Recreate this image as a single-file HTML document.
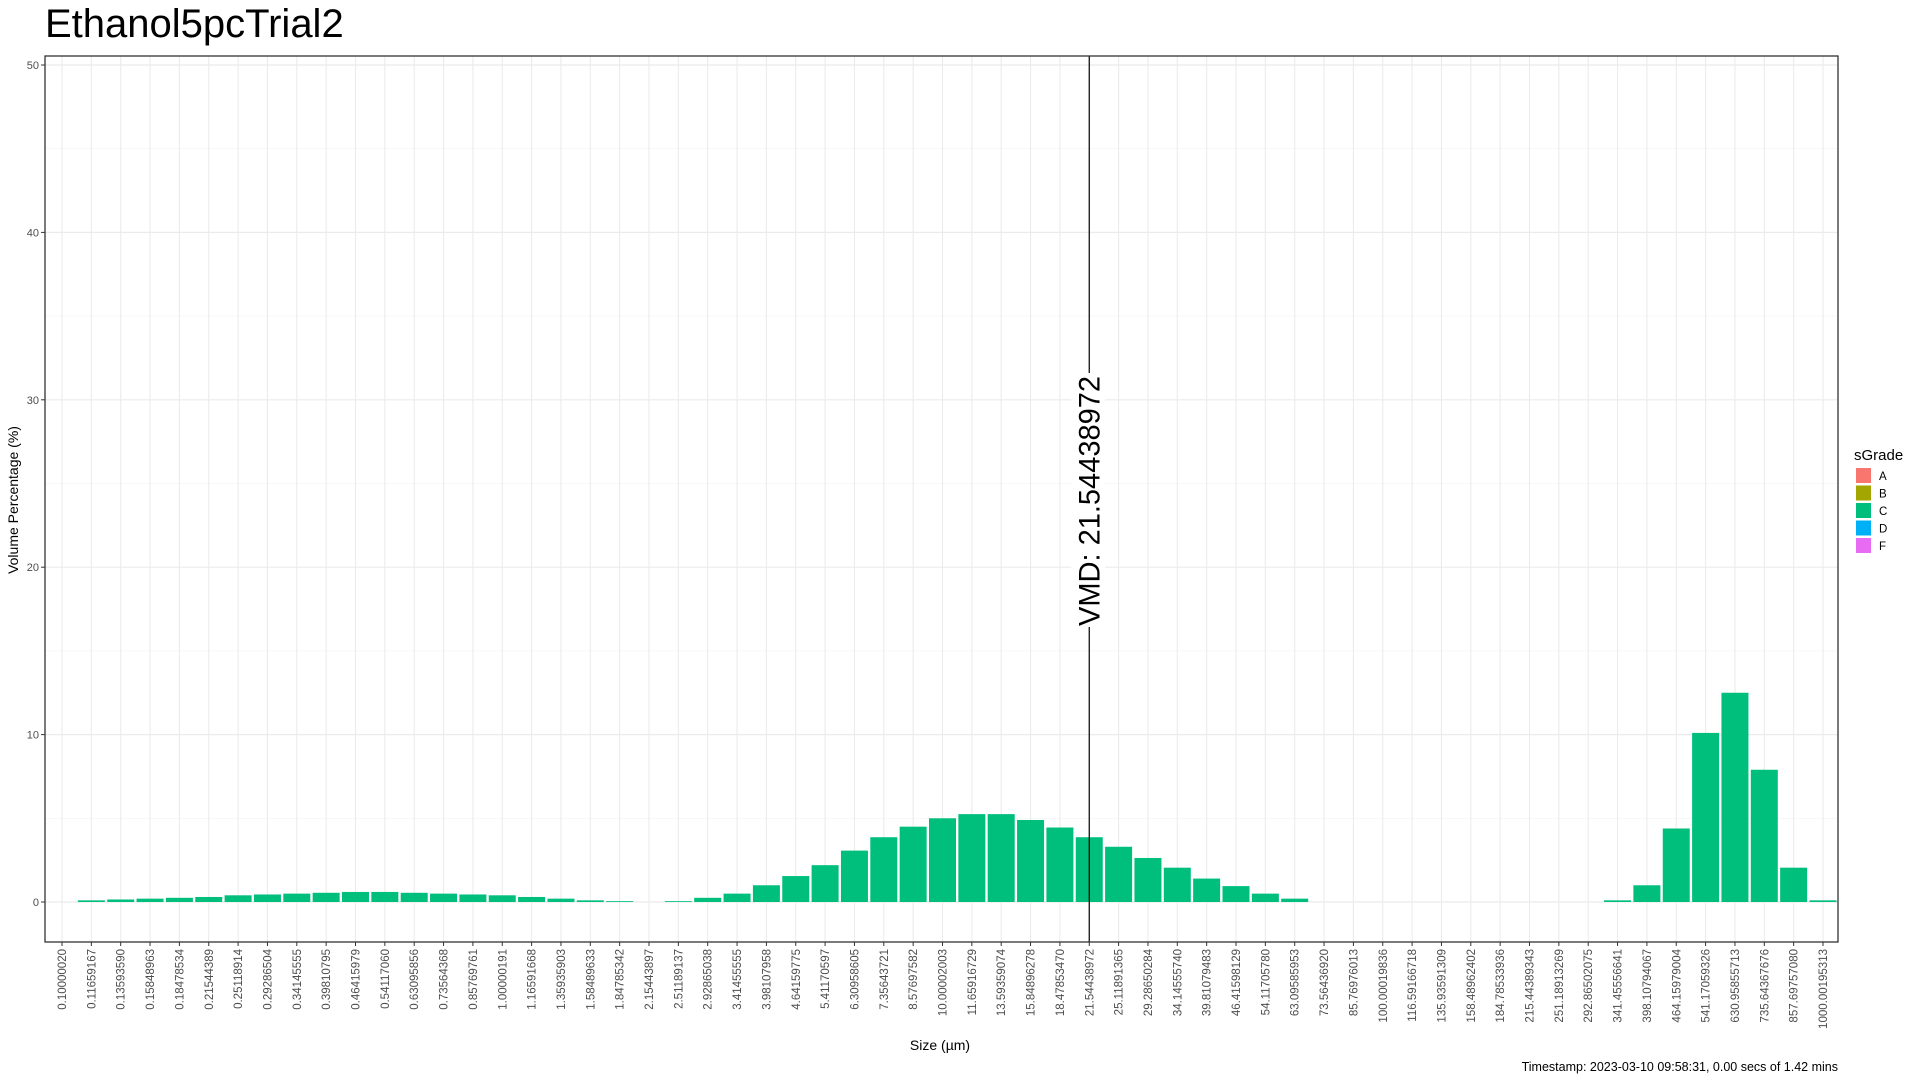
<!DOCTYPE html>
<html><head><meta charset="utf-8"><style>
html,body{margin:0;padding:0;background:#fff;}
svg{display:block;font-family:"Liberation Sans",sans-serif;}
</style></head><body>
<svg id="chart" width="1920" height="1080" viewBox="0 0 1920 1080" xmlns="http://www.w3.org/2000/svg">
<rect width="1920" height="1080" fill="#fff"/>
<text x="45" y="37" font-size="40" fill="#000">Ethanol5pcTrial2</text>
<g id="grid"></g>
<g id="bars"></g>
<g id="vmd"></g>
<rect x="45" y="56" width="1793" height="886" fill="none" stroke="#333" stroke-width="1.3"/>
<g id="yaxis"></g>
<g id="xaxis"></g>
<text transform="translate(18,500) rotate(-90)" text-anchor="middle" font-size="14" fill="#000">Volume Percentage (%)</text>
<text x="940" y="1050" text-anchor="middle" font-size="14" fill="#000">Size (µm)</text>
<text x="1838" y="1071" text-anchor="end" font-size="12.5" fill="#000">Timestamp: 2023-03-10 09:58:31, 0.00 secs of 1.42 mins</text>
<g id="legend">
<text x="1854" y="460" font-size="15" fill="#000">sGrade</text>
</g>
</svg>
<script>
const categories=["0.10000020","0.11659167","0.13593590","0.15848963","0.18478534","0.21544389","0.25118914","0.29286504","0.34145555","0.39810795","0.46415979","0.54117060","0.63095856","0.73564368","0.85769761","1.00000191","1.16591668","1.35935903","1.58489633","1.84785342","2.15443897","2.51189137","2.92865038","3.41455555","3.98107958","4.64159775","5.41170597","6.30958605","7.35643721","8.57697582","10.00002003","11.65916729","13.59359074","15.84896278","18.47853470","21.54438972","25.11891365","29.28650284","34.14555740","39.81079483","46.41598129","54.11705780","63.09585953","73.56436920","85.76976013","100.00019836","116.59166718","135.93591309","158.48962402","184.78533936","215.44389343","251.18913269","292.86502075","341.45556641","398.10794067","464.15979004","541.17059326","630.95855713","735.64367676","857.69757080","1000.00195313"];
const values=[0,0.1,0.15,0.2,0.25,0.3,0.4,0.45,0.5,0.55,0.6,0.6,0.55,0.5,0.45,0.4,0.3,0.2,0.1,0.05,0,0.05,0.25,0.5,1.0,1.55,2.2,3.07,3.87,4.5,5.0,5.25,5.25,4.9,4.45,3.87,3.3,2.63,2.05,1.4,0.95,0.5,0.2,0,0,0,0,0,0,0,0,0,0,0.1,1.0,4.39,10.1,12.5,7.9,2.05,0.1];
const yTicks=[0,10,20,30,40,50];
const yMinor=[5,15,25,35,45];
const vmdValue=21.54438972;
const vmdLabel="VMD: 21.54438972";
const legendKeys=["A","B","C","D","F"];
const legendColors=["#F8766D","#A3A500","#00BF7D","#00B0F6","#E76BF3"];

const NS="http://www.w3.org/2000/svg";
const PL=45,PR=1838,PT=56,PB=942;
const X0=62,STEP=29.35,BW=27;
const xPos=i=>X0+i*STEP;
const yPos=v=>902-v*16.74;
function mk(tag,attrs,parent){const e=document.createElementNS(NS,tag);for(const k in attrs)e.setAttribute(k,attrs[k]);parent.appendChild(e);return e;}
const grid=document.getElementById('grid'),bars=document.getElementById('bars'),ya=document.getElementById('yaxis'),xa=document.getElementById('xaxis'),vmd=document.getElementById('vmd'),leg=document.getElementById('legend');
yMinor.forEach(v=>{const l=mk('line',{x1:PL,x2:PR,y1:yPos(v),y2:yPos(v),stroke:'#f2f2f2','stroke-width':0.6},grid);

});
yTicks.forEach(v=>{const l=mk('line',{x1:PL,x2:PR,y1:yPos(v),y2:yPos(v),stroke:'#ebebeb','stroke-width':1.2},grid);


const t=mk('line',{x1:PL-4,x2:PL,y1:yPos(v),y2:yPos(v),stroke:'#333','stroke-width':1},ya);


const tx=mk('text',{x:PL-6,y:yPos(v)+4,'text-anchor':'end','font-size':11,fill:'#4d4d4d'},ya);
tx.textContent=v;

});
categories.forEach((c,i)=>{const x=xPos(i);
const g=mk('line',{x1:x,x2:x,y1:PT,y2:PB,stroke:'#ebebeb','stroke-width':1.1},grid);


const t=mk('line',{x1:x,x2:x,y1:PB,y2:PB+4,stroke:'#333','stroke-width':1},xa);


const tx=mk('text',{transform:`translate(${x+4},${PB+7}) rotate(-90)`,'text-anchor':'end','font-size':11.5,fill:'#4d4d4d'},xa);
tx.textContent=c;


const v=values[i];
if(v>0){const r=mk('rect',{x:x-BW/2,y:yPos(v),width:BW,height:yPos(0)-yPos(v),fill:'#00BF7D'},bars);

}});
let vi=categories.findIndex(c=>Math.abs(parseFloat(c)-vmdValue)<1e-6);
const vx=xPos(vi);
const vl=mk('line',{x1:vx,x2:vx,y1:PT,y2:PB,stroke:'#000','stroke-width':1.2},vmd);


const vb=mk('rect',{x:vx-18,y:373,width:34,height:254,fill:'#fff'},vmd);


const vt=mk('text',{transform:`translate(${vx+10},501) rotate(-90)`,'text-anchor':'middle','font-size':30,fill:'#000',textLength:250,lengthAdjust:'spacingAndGlyphs'},vmd);
vt.textContent=vmdLabel;


legendKeys.forEach((k,i)=>{const y=468+i*17.5;
const r=mk('rect',{x:1856,y:y,width:15,height:15,fill:legendColors[i]},leg);


const t=mk('text',{x:1879,y:y+12,'font-size':11.5,fill:'#000'},leg);
t.textContent=k;

});
</script>
</body></html>
